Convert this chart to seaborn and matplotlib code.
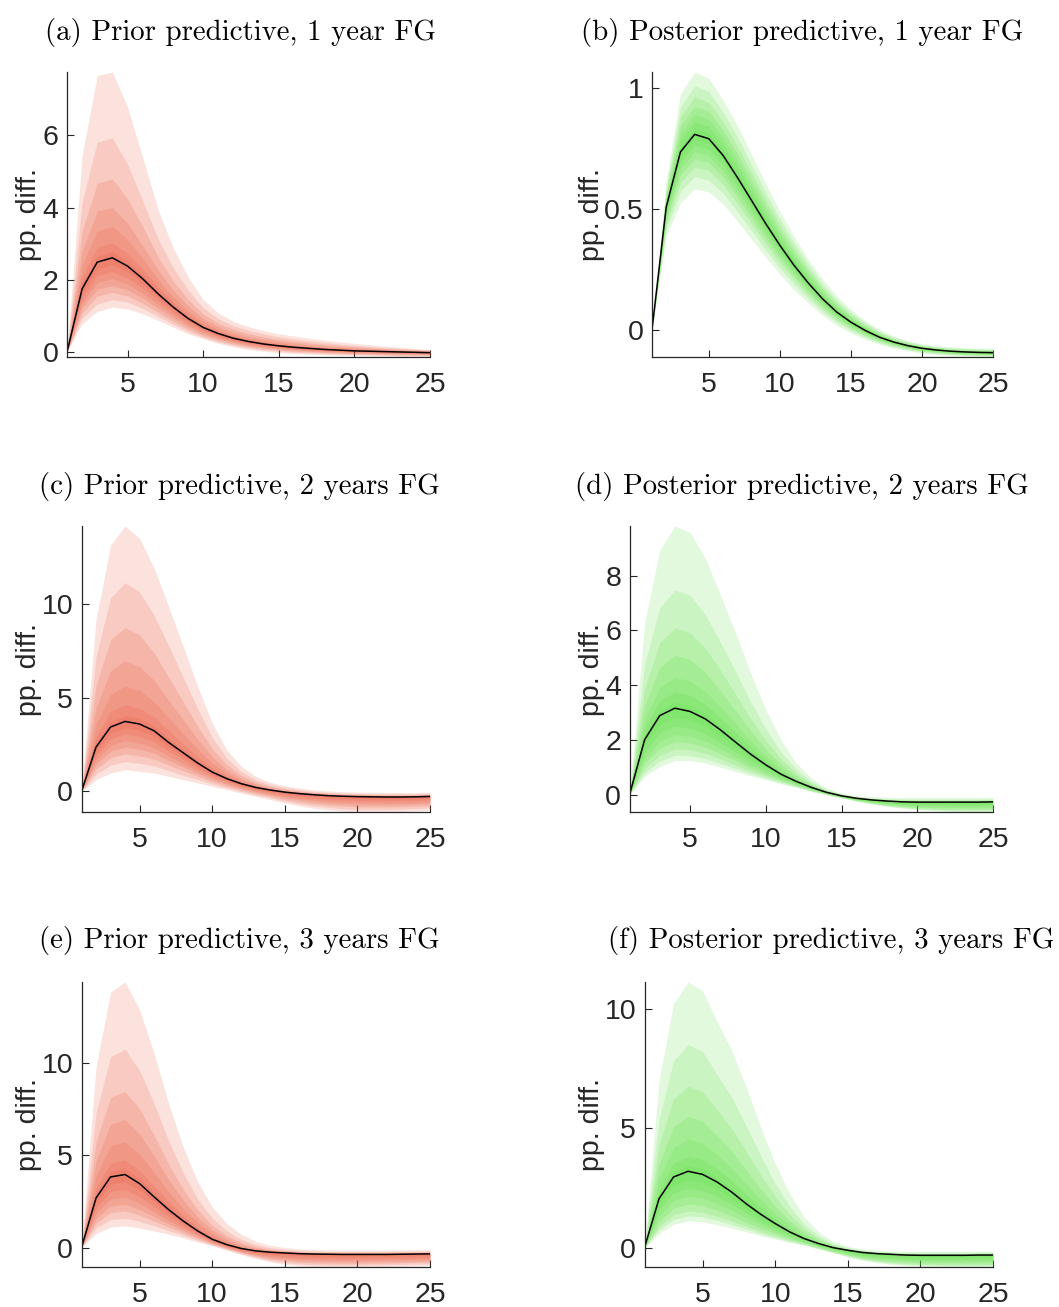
import matplotlib
matplotlib.use("Agg")
import matplotlib.pyplot as plt
import seaborn as sns
import pandas as pd
from matplotlib.ticker import FuncFormatter

horizon = list(range(1, 26))
xticks = [5, 10, 15, 20, 25]

titles = ["(a) Prior predictive, 1 year FG", "(b) Posterior predictive, 1 year FG",
          "(c) Prior predictive, 2 years FG", "(d) Posterior predictive, 2 years FG",
          "(e) Prior predictive, 3 years FG", "(f) Posterior predictive, 3 years FG"]
ylabel = "pp. diff."

yt_a = [0, 2, 4, 6]
yt_b = [0, 0.5, 1]
yt_c = [0, 5, 10]
yt_d = [0, 2, 4, 6, 8]
yt_e = [0, 5, 10]
yt_f = [0, 5, 10]

# ---------------- (a) prior, 1 year ----------------
med_a = [0, 1.75, 2.49, 2.61, 2.38, 2.03, 1.62, 1.25, 0.93, 0.68, 0.51, 0.38, 0.29, 0.22, 0.17, 0.13, 0.10, 0.07, 0.05, 0.03, 0.02, 0.01, 0.00, -0.01, -0.02]
hi_a = [
    [0, 5.45, 7.66, 7.76, 6.79, 5.40, 3.97, 2.90, 2.08, 1.45, 1.08, 0.85, 0.70, 0.59, 0.50, 0.44, 0.38, 0.33, 0.28, 0.24, 0.20, 0.16, 0.13, 0.10, 0.07],
    [0, 4.15, 5.82, 5.93, 5.20, 4.20, 3.15, 2.35, 1.72, 1.22, 0.92, 0.73, 0.60, 0.50, 0.42, 0.36, 0.31, 0.26, 0.22, 0.18, 0.15, 0.12, 0.10, 0.07, 0.05],
    [0, 3.35, 4.68, 4.80, 4.25, 3.48, 2.65, 1.98, 1.46, 1.05, 0.80, 0.63, 0.51, 0.42, 0.35, 0.30, 0.25, 0.21, 0.18, 0.15, 0.12, 0.10, 0.08, 0.06, 0.04],
    [0, 2.80, 3.91, 4.00, 3.58, 2.95, 2.28, 1.72, 1.28, 0.93, 0.71, 0.55, 0.44, 0.36, 0.30, 0.25, 0.21, 0.17, 0.14, 0.12, 0.10, 0.08, 0.06, 0.04, 0.03],
    [0, 2.40, 3.35, 3.48, 3.12, 2.60, 2.02, 1.53, 1.14, 0.83, 0.63, 0.48, 0.38, 0.30, 0.25, 0.20, 0.16, 0.13, 0.11, 0.09, 0.07, 0.05, 0.04, 0.03, 0.02],
    [0, 2.10, 2.90, 3.02, 2.73, 2.30, 1.82, 1.39, 1.04, 0.76, 0.58, 0.44, 0.34, 0.27, 0.21, 0.17, 0.13, 0.10, 0.08, 0.06, 0.05, 0.03, 0.02, 0.01, 0.00],
    [0, 1.90, 2.66, 2.77, 2.52, 2.14, 1.71, 1.31, 0.98, 0.72, 0.54, 0.41, 0.31, 0.24, 0.19, 0.15, 0.11, 0.08, 0.06, 0.04, 0.03, 0.02, 0.01, 0.00, -0.01],
]
lo_a = [
    [0, 0.78, 1.12, 1.24, 1.19, 1.06, 0.88, 0.69, 0.50, 0.37, 0.24, 0.14, 0.07, 0.02, -0.02, -0.04, -0.06, -0.08, -0.09, -0.10, -0.11, -0.12, -0.13, -0.13, -0.14],
    [0, 0.94, 1.33, 1.45, 1.38, 1.21, 0.99, 0.77, 0.57, 0.40, 0.28, 0.18, 0.11, 0.06, 0.02, -0.01, -0.03, -0.05, -0.06, -0.07, -0.08, -0.09, -0.10, -0.10, -0.11],
    [0, 1.08, 1.55, 1.65, 1.55, 1.35, 1.10, 0.85, 0.63, 0.45, 0.32, 0.22, 0.15, 0.09, 0.05, 0.02, 0.00, -0.02, -0.04, -0.05, -0.06, -0.07, -0.08, -0.08, -0.09],
    [0, 1.22, 1.74, 1.84, 1.72, 1.49, 1.21, 0.94, 0.70, 0.50, 0.36, 0.26, 0.18, 0.12, 0.08, 0.05, 0.02, 0.00, -0.01, -0.03, -0.04, -0.05, -0.06, -0.06, -0.07],
    [0, 1.35, 1.93, 2.03, 1.88, 1.63, 1.32, 1.02, 0.76, 0.55, 0.40, 0.29, 0.21, 0.15, 0.11, 0.07, 0.04, 0.02, 0.01, -0.01, -0.02, -0.03, -0.04, -0.05, -0.05],
    [0, 1.48, 2.12, 2.22, 2.05, 1.77, 1.43, 1.10, 0.82, 0.60, 0.44, 0.32, 0.24, 0.18, 0.13, 0.09, 0.06, 0.04, 0.02, 0.01, 0.00, -0.01, -0.02, -0.03, -0.04],
    [0, 1.62, 2.30, 2.42, 2.22, 1.90, 1.53, 1.18, 0.88, 0.64, 0.48, 0.35, 0.27, 0.20, 0.15, 0.11, 0.08, 0.06, 0.04, 0.02, 0.01, 0.00, -0.01, -0.02, -0.03],
]

# ---------------- (b) posterior, 1 year ----------------
med_b = [0, 0.507, 0.735, 0.808, 0.790, 0.721, 0.631, 0.535, 0.439, 0.349, 0.266, 0.193, 0.128, 0.073, 0.031, -0.003, -0.031, -0.051, -0.066, -0.077, -0.084, -0.089, -0.092, -0.094, -0.095]
hi_b = [
    [0, 0.617, 0.975, 1.066, 1.040, 0.950, 0.845, 0.725, 0.605, 0.490, 0.385, 0.290, 0.210, 0.140, 0.083, 0.038, 0.001, -0.026, -0.045, -0.058, -0.066, -0.071, -0.074, -0.076, -0.077],
    [0, 0.593, 0.922, 1.009, 0.985, 0.900, 0.798, 0.683, 0.568, 0.458, 0.360, 0.271, 0.190, 0.124, 0.072, 0.029, -0.006, -0.032, -0.050, -0.062, -0.070, -0.075, -0.078, -0.080, -0.081],
    [0, 0.573, 0.879, 0.963, 0.940, 0.859, 0.759, 0.649, 0.539, 0.433, 0.338, 0.253, 0.176, 0.112, 0.062, 0.022, -0.012, -0.036, -0.053, -0.066, -0.073, -0.078, -0.081, -0.083, -0.084],
    [0, 0.557, 0.843, 0.924, 0.903, 0.825, 0.727, 0.621, 0.514, 0.412, 0.320, 0.238, 0.164, 0.102, 0.054, 0.015, -0.017, -0.040, -0.057, -0.068, -0.076, -0.081, -0.084, -0.086, -0.087],
    [0, 0.542, 0.812, 0.891, 0.870, 0.795, 0.699, 0.596, 0.492, 0.394, 0.304, 0.225, 0.154, 0.094, 0.048, 0.010, -0.021, -0.043, -0.059, -0.071, -0.078, -0.083, -0.086, -0.088, -0.089],
    [0, 0.529, 0.783, 0.860, 0.840, 0.767, 0.674, 0.573, 0.472, 0.377, 0.290, 0.213, 0.144, 0.086, 0.041, 0.005, -0.025, -0.046, -0.062, -0.073, -0.080, -0.085, -0.088, -0.090, -0.091],
    [0, 0.517, 0.757, 0.831, 0.813, 0.742, 0.650, 0.552, 0.454, 0.362, 0.277, 0.202, 0.135, 0.079, 0.036, 0.001, -0.028, -0.049, -0.064, -0.075, -0.082, -0.087, -0.090, -0.092, -0.093],
]
lo_b = [
    [0, 0.387, 0.525, 0.583, 0.570, 0.520, 0.450, 0.375, 0.300, 0.230, 0.165, 0.110, 0.060, 0.018, -0.014, -0.040, -0.060, -0.076, -0.088, -0.097, -0.103, -0.107, -0.110, -0.112, -0.113],
    [0, 0.413, 0.571, 0.633, 0.618, 0.565, 0.491, 0.410, 0.330, 0.255, 0.188, 0.128, 0.075, 0.030, -0.004, -0.032, -0.054, -0.071, -0.083, -0.093, -0.099, -0.103, -0.106, -0.108, -0.109],
    [0, 0.435, 0.609, 0.673, 0.658, 0.601, 0.523, 0.439, 0.355, 0.277, 0.206, 0.143, 0.087, 0.040, 0.004, -0.025, -0.049, -0.066, -0.079, -0.089, -0.095, -0.100, -0.103, -0.105, -0.106],
    [0, 0.453, 0.641, 0.707, 0.691, 0.631, 0.550, 0.463, 0.376, 0.295, 0.221, 0.156, 0.097, 0.048, 0.011, -0.020, -0.045, -0.062, -0.076, -0.086, -0.093, -0.097, -0.100, -0.102, -0.103],
    [0, 0.469, 0.668, 0.736, 0.720, 0.657, 0.573, 0.484, 0.394, 0.311, 0.234, 0.166, 0.106, 0.055, 0.017, -0.015, -0.041, -0.059, -0.073, -0.083, -0.090, -0.095, -0.098, -0.100, -0.101],
    [0, 0.483, 0.693, 0.763, 0.746, 0.681, 0.595, 0.503, 0.411, 0.325, 0.246, 0.176, 0.114, 0.062, 0.022, -0.010, -0.037, -0.056, -0.070, -0.081, -0.088, -0.093, -0.096, -0.098, -0.099],
    [0, 0.496, 0.716, 0.788, 0.770, 0.703, 0.615, 0.521, 0.426, 0.338, 0.257, 0.186, 0.122, 0.068, 0.027, -0.006, -0.034, -0.053, -0.068, -0.079, -0.086, -0.091, -0.094, -0.096, -0.097],
]

# ---------------- (c) prior, 2 years ----------------
med_c = [0, 2.36, 3.43, 3.73, 3.59, 3.23, 2.61, 2.06, 1.51, 1.03, 0.68, 0.41, 0.21, 0.07, -0.04, -0.12, -0.18, -0.23, -0.26, -0.28, -0.29, -0.30, -0.30, -0.29, -0.27]
hi_c = [
    [0, 9.15, 13.14, 14.15, 13.50, 11.90, 9.86, 7.73, 5.60, 3.64, 2.22, 1.33, 0.80, 0.48, 0.30, 0.18, 0.08, 0.02, -0.02, -0.04, -0.05, -0.06, -0.06, -0.06, -0.05],
    [0, 7.18, 10.32, 11.13, 10.63, 9.39, 7.76, 6.09, 4.41, 2.88, 1.77, 1.06, 0.63, 0.36, 0.20, 0.09, 0.00, -0.05, -0.09, -0.11, -0.12, -0.13, -0.13, -0.13, -0.11],
    [0, 5.62, 8.09, 8.73, 8.35, 7.39, 6.09, 4.78, 3.47, 2.28, 1.42, 0.85, 0.49, 0.27, 0.12, 0.02, -0.06, -0.11, -0.14, -0.16, -0.17, -0.18, -0.18, -0.18, -0.16],
    [0, 4.46, 6.44, 6.96, 6.66, 5.92, 4.86, 3.82, 2.78, 1.84, 1.16, 0.70, 0.39, 0.20, 0.07, -0.03, -0.10, -0.15, -0.19, -0.21, -0.22, -0.23, -0.23, -0.22, -0.20],
    [0, 3.58, 5.18, 5.61, 5.37, 4.79, 3.92, 3.08, 2.25, 1.50, 0.96, 0.58, 0.32, 0.14, 0.02, -0.07, -0.13, -0.18, -0.22, -0.24, -0.25, -0.26, -0.26, -0.25, -0.23],
    [0, 2.94, 4.26, 4.62, 4.43, 3.97, 3.23, 2.54, 1.86, 1.25, 0.81, 0.49, 0.26, 0.10, -0.01, -0.09, -0.16, -0.21, -0.24, -0.26, -0.27, -0.28, -0.28, -0.27, -0.25],
    [0, 2.56, 3.72, 4.04, 3.89, 3.49, 2.83, 2.23, 1.63, 1.11, 0.73, 0.44, 0.23, 0.08, -0.03, -0.11, -0.17, -0.22, -0.25, -0.27, -0.28, -0.29, -0.29, -0.28, -0.26],
]
lo_c = [
    [0, 0.62, 0.98, 1.15, 1.07, 0.98, 0.80, 0.62, 0.45, 0.27, 0.09, -0.09, -0.27, -0.44, -0.62, -0.77, -0.90, -0.98, -1.05, -1.10, -1.10, -1.09, -1.07, -1.04, -1.00],
    [0, 0.92, 1.40, 1.59, 1.50, 1.36, 1.11, 0.86, 0.63, 0.40, 0.19, -0.01, -0.19, -0.35, -0.52, -0.66, -0.78, -0.85, -0.92, -0.96, -0.96, -0.96, -0.94, -0.91, -0.88],
    [0, 1.19, 1.79, 2.00, 1.90, 1.72, 1.40, 1.10, 0.80, 0.52, 0.28, 0.07, -0.11, -0.27, -0.43, -0.56, -0.66, -0.73, -0.79, -0.83, -0.83, -0.83, -0.82, -0.79, -0.76],
    [0, 1.44, 2.13, 2.36, 2.25, 2.04, 1.65, 1.30, 0.95, 0.63, 0.37, 0.14, -0.04, -0.20, -0.35, -0.46, -0.56, -0.63, -0.68, -0.71, -0.72, -0.72, -0.71, -0.69, -0.66],
    [0, 1.66, 2.45, 2.70, 2.58, 2.33, 1.89, 1.48, 1.09, 0.73, 0.44, 0.21, 0.02, -0.13, -0.27, -0.38, -0.47, -0.53, -0.58, -0.61, -0.61, -0.62, -0.61, -0.59, -0.56],
    [0, 1.91, 2.79, 3.06, 2.93, 2.64, 2.14, 1.69, 1.23, 0.83, 0.53, 0.28, 0.09, -0.06, -0.19, -0.29, -0.37, -0.43, -0.47, -0.49, -0.50, -0.51, -0.50, -0.49, -0.46],
    [0, 2.13, 3.11, 3.39, 3.26, 2.94, 2.37, 1.87, 1.37, 0.93, 0.60, 0.34, 0.15, 0.00, -0.12, -0.20, -0.27, -0.33, -0.36, -0.39, -0.40, -0.40, -0.40, -0.39, -0.36],
]

# ---------------- (d) posterior, 2 years ----------------
med_d = [0, 2.01, 2.89, 3.16, 3.04, 2.77, 2.37, 1.92, 1.48, 1.09, 0.75, 0.49, 0.27, 0.09, -0.04, -0.13, -0.19, -0.23, -0.26, -0.27, -0.27, -0.27, -0.27, -0.27, -0.26]
hi_d = [
    [0, 6.26, 8.94, 9.81, 9.57, 8.63, 7.30, 5.90, 4.44, 3.10, 2.00, 1.16, 0.61, 0.24, 0.06, -0.03, -0.07, -0.09, -0.10, -0.10, -0.10, -0.10, -0.10, -0.10, -0.09],
    [0, 4.77, 6.82, 7.48, 7.28, 6.58, 5.57, 4.51, 3.40, 2.40, 1.56, 0.93, 0.49, 0.19, 0.03, -0.07, -0.11, -0.14, -0.16, -0.16, -0.16, -0.16, -0.16, -0.16, -0.15],
    [0, 3.88, 5.55, 6.09, 5.91, 5.35, 4.54, 3.67, 2.78, 1.97, 1.30, 0.78, 0.42, 0.16, 0.00, -0.09, -0.14, -0.17, -0.19, -0.20, -0.20, -0.20, -0.20, -0.20, -0.19],
    [0, 3.24, 4.64, 5.09, 4.93, 4.47, 3.80, 3.07, 2.34, 1.67, 1.11, 0.68, 0.37, 0.13, -0.01, -0.10, -0.16, -0.19, -0.21, -0.22, -0.22, -0.22, -0.22, -0.22, -0.21],
    [0, 2.73, 3.92, 4.29, 4.15, 3.77, 3.21, 2.60, 1.98, 1.43, 0.96, 0.60, 0.33, 0.12, -0.02, -0.11, -0.17, -0.21, -0.23, -0.24, -0.24, -0.24, -0.24, -0.24, -0.23],
    [0, 2.39, 3.43, 3.76, 3.63, 3.30, 2.81, 2.28, 1.75, 1.27, 0.86, 0.55, 0.30, 0.10, -0.03, -0.12, -0.18, -0.22, -0.25, -0.25, -0.25, -0.25, -0.25, -0.25, -0.24],
    [0, 2.16, 3.10, 3.39, 3.27, 2.98, 2.54, 2.06, 1.58, 1.16, 0.79, 0.51, 0.28, 0.10, -0.03, -0.12, -0.18, -0.22, -0.25, -0.26, -0.26, -0.26, -0.26, -0.26, -0.25],
]
lo_d = [
    [0, 0.67, 1.03, 1.25, 1.25, 1.16, 1.01, 0.85, 0.69, 0.55, 0.40, 0.27, 0.12, 0.00, -0.12, -0.24, -0.34, -0.43, -0.49, -0.55, -0.58, -0.61, -0.62, -0.63, -0.63],
    [0, 0.80, 1.22, 1.44, 1.43, 1.32, 1.15, 0.96, 0.77, 0.60, 0.43, 0.29, 0.13, 0.01, -0.11, -0.23, -0.33, -0.41, -0.47, -0.52, -0.55, -0.58, -0.59, -0.59, -0.59],
    [0, 0.96, 1.44, 1.67, 1.64, 1.51, 1.31, 1.09, 0.86, 0.67, 0.48, 0.32, 0.15, 0.02, -0.10, -0.22, -0.31, -0.39, -0.44, -0.49, -0.51, -0.54, -0.54, -0.55, -0.55],
    [0, 1.15, 1.70, 1.94, 1.89, 1.74, 1.50, 1.24, 0.97, 0.74, 0.53, 0.35, 0.17, 0.03, -0.09, -0.20, -0.29, -0.36, -0.41, -0.45, -0.47, -0.49, -0.49, -0.50, -0.50],
    [0, 1.34, 1.96, 2.20, 2.14, 1.96, 1.69, 1.38, 1.08, 0.82, 0.57, 0.38, 0.20, 0.05, -0.08, -0.19, -0.27, -0.33, -0.38, -0.41, -0.43, -0.44, -0.45, -0.45, -0.45],
    [0, 1.55, 2.26, 2.51, 2.43, 2.22, 1.91, 1.56, 1.21, 0.91, 0.63, 0.42, 0.22, 0.06, -0.07, -0.17, -0.24, -0.30, -0.34, -0.37, -0.38, -0.39, -0.39, -0.39, -0.39],
    [0, 1.78, 2.57, 2.84, 2.74, 2.50, 2.14, 1.74, 1.35, 1.00, 0.69, 0.45, 0.24, 0.07, -0.05, -0.15, -0.22, -0.26, -0.30, -0.32, -0.32, -0.33, -0.33, -0.33, -0.32],
]

# ---------------- (e) prior, 3 years ----------------
med_e = [0, 2.68, 3.82, 3.95, 3.46, 2.74, 2.05, 1.44, 0.90, 0.45, 0.16, -0.05, -0.18, -0.25, -0.29, -0.33, -0.35, -0.36, -0.37, -0.37, -0.37, -0.37, -0.36, -0.35, -0.34]
hi_e = [
    [0, 9.76, 13.82, 14.36, 12.87, 10.49, 7.78, 5.44, 3.55, 2.20, 1.30, 0.72, 0.34, 0.12, 0.00, -0.07, -0.11, -0.13, -0.14, -0.14, -0.14, -0.13, -0.13, -0.12, -0.11],
    [0, 7.28, 10.32, 10.72, 9.58, 7.78, 5.77, 4.04, 2.62, 1.59, 0.90, 0.45, 0.16, -0.01, -0.10, -0.16, -0.19, -0.21, -0.22, -0.22, -0.22, -0.21, -0.21, -0.20, -0.19],
    [0, 5.72, 8.12, 8.43, 7.51, 6.07, 4.51, 3.16, 2.04, 1.20, 0.65, 0.28, 0.04, -0.09, -0.17, -0.22, -0.25, -0.26, -0.27, -0.27, -0.27, -0.27, -0.26, -0.25, -0.24],
    [0, 4.70, 6.67, 6.92, 6.14, 4.95, 3.68, 2.58, 1.66, 0.95, 0.48, 0.17, -0.03, -0.14, -0.21, -0.26, -0.28, -0.29, -0.30, -0.30, -0.30, -0.30, -0.29, -0.28, -0.27],
    [0, 3.88, 5.52, 5.72, 5.06, 4.06, 3.02, 2.12, 1.35, 0.75, 0.35, 0.08, -0.09, -0.19, -0.24, -0.29, -0.31, -0.32, -0.33, -0.33, -0.33, -0.33, -0.32, -0.31, -0.30],
    [0, 3.21, 4.57, 4.73, 4.17, 3.32, 2.48, 1.74, 1.10, 0.58, 0.25, 0.01, -0.14, -0.22, -0.27, -0.31, -0.33, -0.34, -0.35, -0.35, -0.35, -0.35, -0.34, -0.33, -0.32],
    [0, 2.89, 4.12, 4.26, 3.74, 2.97, 2.22, 1.56, 0.98, 0.50, 0.19, -0.03, -0.16, -0.24, -0.28, -0.32, -0.34, -0.35, -0.36, -0.36, -0.36, -0.36, -0.35, -0.34, -0.33],
]
lo_e = [
    [0, 0.76, 1.11, 1.17, 1.06, 0.90, 0.72, 0.52, 0.30, 0.09, -0.14, -0.38, -0.59, -0.78, -0.90, -0.99, -1.03, -1.05, -1.05, -1.05, -1.04, -1.03, -1.01, -0.99, -0.97],
    [0, 1.05, 1.52, 1.59, 1.42, 1.18, 0.92, 0.66, 0.39, 0.14, -0.10, -0.33, -0.53, -0.70, -0.81, -0.89, -0.93, -0.95, -0.95, -0.95, -0.94, -0.93, -0.91, -0.89, -0.88],
    [0, 1.32, 1.90, 1.98, 1.76, 1.43, 1.11, 0.79, 0.47, 0.19, -0.05, -0.28, -0.47, -0.63, -0.72, -0.80, -0.83, -0.85, -0.85, -0.85, -0.85, -0.84, -0.82, -0.80, -0.79],
    [0, 1.57, 2.25, 2.34, 2.07, 1.67, 1.28, 0.91, 0.55, 0.24, -0.01, -0.24, -0.42, -0.56, -0.64, -0.71, -0.74, -0.76, -0.76, -0.76, -0.76, -0.75, -0.74, -0.72, -0.71],
    [0, 1.84, 2.63, 2.73, 2.40, 1.93, 1.46, 1.04, 0.64, 0.29, 0.03, -0.20, -0.36, -0.48, -0.56, -0.62, -0.65, -0.66, -0.67, -0.67, -0.66, -0.66, -0.65, -0.63, -0.62],
    [0, 2.12, 3.03, 3.14, 2.76, 2.21, 1.66, 1.17, 0.73, 0.35, 0.07, -0.15, -0.30, -0.40, -0.47, -0.52, -0.55, -0.56, -0.57, -0.57, -0.56, -0.56, -0.55, -0.54, -0.52],
    [0, 2.41, 3.44, 3.56, 3.12, 2.48, 1.86, 1.31, 0.82, 0.40, 0.12, -0.10, -0.24, -0.32, -0.38, -0.42, -0.45, -0.46, -0.47, -0.47, -0.46, -0.46, -0.45, -0.44, -0.43],
]

# ---------------- (f) posterior, 3 years ----------------
med_f = [0, 2.05, 2.96, 3.20, 3.07, 2.75, 2.33, 1.84, 1.40, 1.01, 0.66, 0.38, 0.17, 0.00, -0.11, -0.20, -0.25, -0.28, -0.31, -0.32, -0.32, -0.32, -0.32, -0.31, -0.31]
hi_f = [
    [0, 7.01, 10.23, 11.13, 10.76, 9.46, 8.27, 6.73, 5.06, 3.52, 2.26, 1.28, 0.65, 0.26, 0.06, -0.06, -0.11, -0.14, -0.15, -0.15, -0.15, -0.15, -0.15, -0.14, -0.14],
    [0, 5.37, 7.83, 8.51, 8.22, 7.25, 6.31, 5.12, 3.85, 2.69, 1.73, 0.98, 0.49, 0.17, 0.00, -0.11, -0.16, -0.19, -0.20, -0.21, -0.21, -0.21, -0.21, -0.20, -0.20],
    [0, 4.28, 6.23, 6.77, 6.53, 5.77, 5.00, 4.04, 3.05, 2.14, 1.38, 0.79, 0.39, 0.12, -0.03, -0.14, -0.19, -0.22, -0.24, -0.24, -0.24, -0.24, -0.24, -0.23, -0.23],
    [0, 3.49, 5.07, 5.50, 5.30, 4.70, 4.05, 3.26, 2.46, 1.74, 1.12, 0.64, 0.31, 0.08, -0.06, -0.16, -0.21, -0.24, -0.26, -0.27, -0.27, -0.27, -0.27, -0.26, -0.26],
    [0, 2.89, 4.20, 4.55, 4.38, 3.89, 3.34, 2.67, 2.02, 1.44, 0.93, 0.53, 0.25, 0.04, -0.08, -0.18, -0.23, -0.26, -0.28, -0.29, -0.29, -0.29, -0.29, -0.28, -0.28],
    [0, 2.45, 3.54, 3.83, 3.69, 3.29, 2.81, 2.23, 1.69, 1.21, 0.79, 0.45, 0.21, 0.02, -0.10, -0.19, -0.24, -0.27, -0.30, -0.31, -0.31, -0.31, -0.31, -0.30, -0.30],
    [0, 2.20, 3.18, 3.44, 3.30, 2.95, 2.51, 1.99, 1.51, 1.09, 0.71, 0.41, 0.18, 0.01, -0.10, -0.20, -0.25, -0.28, -0.31, -0.31, -0.31, -0.31, -0.31, -0.30, -0.30],
]
lo_f = [
    [0, 0.59, 0.98, 1.12, 1.09, 0.96, 0.82, 0.66, 0.50, 0.36, 0.22, 0.10, -0.06, -0.22, -0.39, -0.53, -0.63, -0.70, -0.75, -0.78, -0.80, -0.81, -0.81, -0.81, -0.80],
    [0, 0.74, 1.18, 1.33, 1.29, 1.14, 0.97, 0.78, 0.59, 0.42, 0.26, 0.13, -0.04, -0.20, -0.36, -0.50, -0.59, -0.66, -0.71, -0.73, -0.75, -0.76, -0.76, -0.76, -0.75],
    [0, 0.88, 1.38, 1.54, 1.49, 1.32, 1.12, 0.90, 0.68, 0.49, 0.31, 0.16, -0.01, -0.18, -0.33, -0.46, -0.55, -0.62, -0.66, -0.69, -0.70, -0.71, -0.71, -0.71, -0.70],
    [0, 1.09, 1.65, 1.83, 1.76, 1.57, 1.33, 1.06, 0.81, 0.58, 0.37, 0.20, 0.02, -0.15, -0.29, -0.42, -0.50, -0.56, -0.60, -0.62, -0.64, -0.64, -0.64, -0.64, -0.63],
    [0, 1.32, 1.97, 2.16, 2.08, 1.85, 1.57, 1.25, 0.95, 0.68, 0.44, 0.24, 0.06, -0.11, -0.25, -0.37, -0.44, -0.49, -0.53, -0.55, -0.56, -0.57, -0.57, -0.56, -0.56],
    [0, 1.55, 2.29, 2.49, 2.40, 2.14, 1.82, 1.44, 1.09, 0.79, 0.51, 0.28, 0.09, -0.07, -0.21, -0.31, -0.38, -0.42, -0.46, -0.48, -0.48, -0.49, -0.49, -0.48, -0.48],
    [0, 1.80, 2.62, 2.85, 2.73, 2.45, 2.07, 1.64, 1.25, 0.90, 0.59, 0.33, 0.13, -0.04, -0.16, -0.26, -0.31, -0.35, -0.38, -0.40, -0.40, -0.40, -0.40, -0.40, -0.39],
]

# ---------------- styling ----------------
RED = (0.92, 0.33, 0.22)
GREEN = (0.33, 0.88, 0.22)
INK = "#262626"

sns.set_style("ticks")
plt.rcParams["font.family"] = ["Liberation Sans", "DejaVu Sans"]

W, H = 1059, 1307
fig = plt.figure(figsize=(W / 100, H / 100), dpi=100)

# pixel boxes: left, right, top, bottom ; title centre x, title baseline y ; ylabel centre x
boxes = [
    (67, 430, 72, 357, 240, 40, 28.5),
    (652, 993, 72, 357, 802, 40, 592),
    (81.5, 430, 526, 812, 239, 494, 28.5),
    (629.5, 993, 526, 812, 802, 494, 592),
    (81.5, 430, 982, 1267, 239, 948, 28.5),
    (644.5, 993, 982, 1267, 831, 948, 592),
]
panels = [
    (med_a, hi_a, lo_a, RED, yt_a),
    (med_b, hi_b, lo_b, GREEN, yt_b),
    (med_c, hi_c, lo_c, RED, yt_c),
    (med_d, hi_d, lo_d, GREEN, yt_d),
    (med_e, hi_e, lo_e, RED, yt_e),
    (med_f, hi_f, lo_f, GREEN, yt_f),
]

fmt = FuncFormatter(lambda v, p: "%g" % v)

for (L, R, T, B, tx, ty, lx), (med, hi, lo, col, yt), title in zip(boxes, panels, titles):
    ax = fig.add_axes([L / W, 1 - B / H, (R - L) / W, (B - T) / H])
    for u, l in zip(hi, lo):
        ax.fill_between(horizon, l, u, color=col, alpha=0.17, linewidth=0)
    df = pd.DataFrame({"h": horizon, "v": med})
    sns.lineplot(data=df, x="h", y="v", ax=ax, color="black", linewidth=1.1)
    ax.set_xlim(1, 25)
    ax.set_ylim(min(lo[0]), max(hi[0]))
    ax.set_xticks(xticks)
    ax.set_yticks(yt)
    ax.yaxis.set_major_formatter(fmt)
    ax.set_xlabel("")
    sns.despine(ax=ax)
    for s in ("left", "bottom"):
        ax.spines[s].set_color(INK)
        ax.spines[s].set_linewidth(0.9)
    ax.tick_params(direction="in", length=5, width=0.8, colors=INK, labelsize=20.5)
    ax.tick_params(axis="x", pad=11)
    ax.tick_params(axis="y", pad=6)
    ax.set_ylabel(ylabel, fontsize=20.5, color=INK, va="center")
    ax.yaxis.set_label_coords((lx - L) / (R - L), 0.5)
    fig.text(tx / W, 1 - ty / H, title, ha="center", va="baseline",
             fontfamily="cmr10", fontsize=20.8, color="black")

fig.savefig("out.png", dpi=100)
